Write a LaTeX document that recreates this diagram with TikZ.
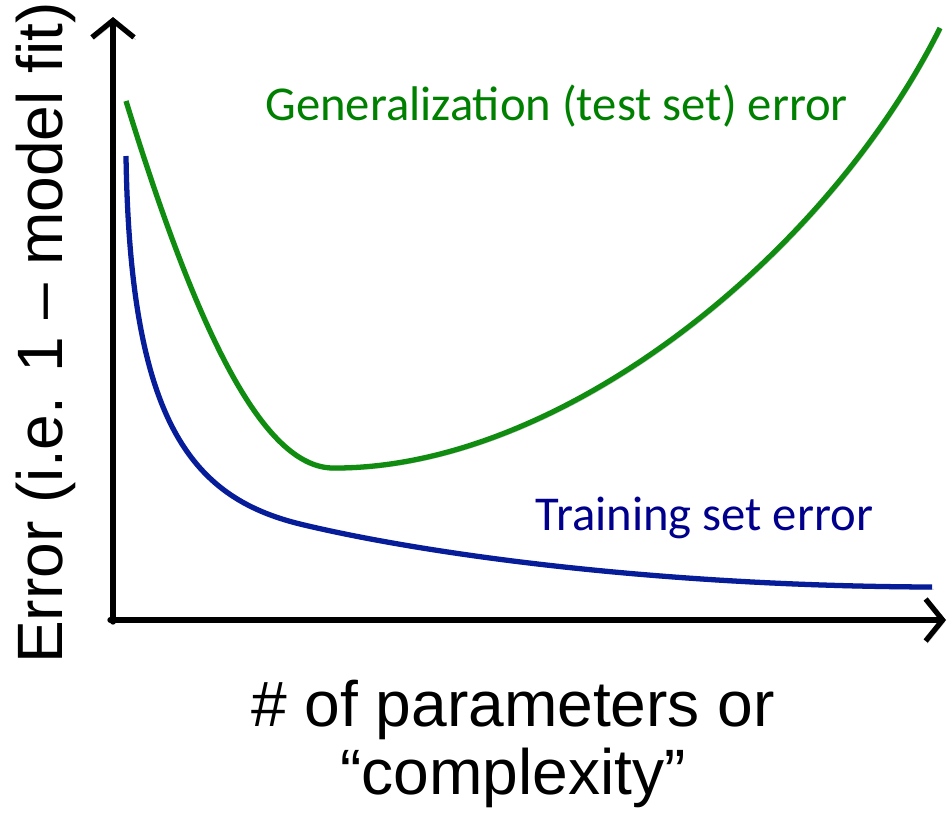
\documentclass[tikz,border=0pt]{standalone}
\usepackage{fontspec}
\setmainfont{Liberation Sans}
\newfontfamily\calibri{Carlito}
\usetikzlibrary{arrows.meta}
\definecolor{gencolor}{RGB}{16,140,16}
\definecolor{traincolor}{RGB}{6,28,152}
\definecolor{gentext}{RGB}{0,128,0}
\definecolor{traintext}{RGB}{0,0,140}
\tikzstyle{drop} = [preaction={draw=black!20,transform canvas={xshift=1pt,yshift=-1.3pt}}]
\tikzstyle{axisline} = [line width=3pt,line cap=round,line join=round,-{Straight Barb[length=3.4mm,width=8.4mm]},drop]
\tikzstyle{errcurve} = [line width=3pt,drop]
\tikzstyle{curvelabel} = [inner sep=0pt,anchor=base west,font=\calibri\fontsize{27.7}{32}\selectfont]
\tikzstyle{axislabel} = [inner sep=0pt,font=\fontsize{36.5}{38.6}\selectfont]

\begin{document}
\begin{tikzpicture}[x=0.02cm,y=-0.02cm]
        \useasboundingbox (0,0) rectangle (952,812);
        % \draw[step=50,gray,very thin] (0,0) grid (952,812);
        \coordinate (ytip) at (113,17);
        \coordinate (xtip) at (946,620);
        \draw[axisline] (113,622) -- (ytip);
        \draw[axisline] (110,620) -- (xtip);
        % generalization error: falls, bottoms out, then climbs again
        \coordinate (genmin) at (335,468);
        \draw[errcurve,gencolor] (126,101) .. controls (195,325) and (262,470) .. (genmin)
            .. controls (560,468) and (825,258) .. (940,28);
        % training error keeps going down
        \coordinate (trainknee) at (300,524);
        \draw[errcurve,traincolor] (126,156) .. controls (130,420) and (190,497) .. (trainknee)
            .. controls (420,553) and (650,586) .. (932,587);
        \node[curvelabel,text=gentext] (gen) at (265,120) {Generalization (test set) error};
        \node[curvelabel,text=traintext] (train) at (535,530) {Training set error};
        \node[axislabel,rotate=90,anchor=base] (ylabel) at (62,333) {Error (i.e. 1 – model fit)};
        \node[axislabel,align=center,anchor=north] (xlabel) at (513,680) {\# of parameters or\\“complexity”};
\end{tikzpicture}
\end{document}
